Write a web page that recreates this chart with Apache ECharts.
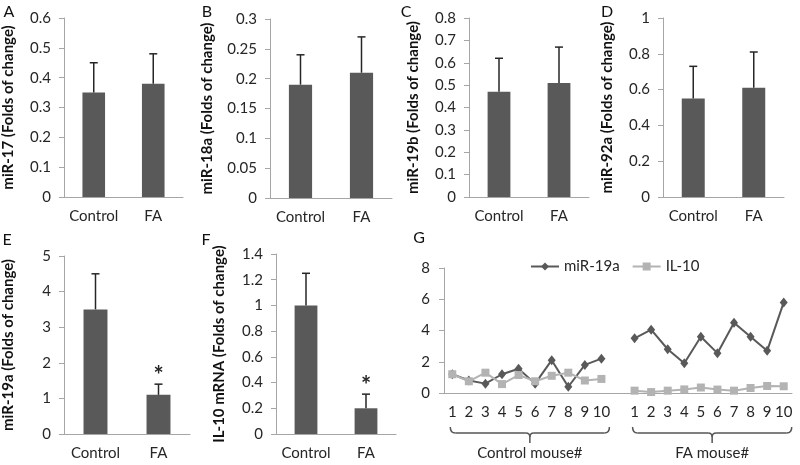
<!DOCTYPE html>
<html><head><meta charset="utf-8">
<script src="https://cdn.jsdelivr.net/npm/echarts@6/dist/echarts.min.js"></script>
<style>html,body{margin:0;padding:0;background:#fff}#c{width:800px;height:465px}</style>
</head><body><div id="c"></div>
<script>
// ---------- data ----------
const categories = ['Control', 'FA'];
const miR17Mean = [0.35, 0.38];   const miR17Err = [0.10, 0.10];
const miR18aMean = [0.19, 0.21];  const miR18aErr = [0.05, 0.06];
const miR19bMean = [0.47, 0.51];  const miR19bErr = [0.15, 0.16];
const miR92aMean = [0.55, 0.61];  const miR92aErr = [0.18, 0.20];
const miR19aMean = [3.5, 1.1];    const miR19aErr = [1.0, 0.3];
const il10Mean = [1.0, 0.2];      const il10Err = [0.25, 0.11];
const sigNone = [0, 0];
const sigFA = [0, 1];

const mouseTicks = ['1','2','3','4','5','6','7','8','9','10'];
const miR19aControl = [1.2, 0.8, 0.6, 1.2, 1.55, 0.6, 2.1, 0.4, 1.8, 2.2];
const miR19aFA      = [3.5, 4.05, 2.8, 1.9, 3.6, 2.55, 4.5, 3.6, 2.7, 5.8];
const il10Control   = [1.2, 0.75, 1.3, 0.57, 1.15, 0.75, 1.1, 1.3, 0.8, 0.9];
const il10FA        = [0.15, 0.06, 0.15, 0.23, 0.35, 0.22, 0.15, 0.32, 0.45, 0.43];

// ---------- layout ----------
const FONT = 'Lato';
const panels = [
  {letter:'A', name:'miR-17 (Folds of change)', mean:miR17Mean, err:miR17Err, sig:sigNone, max:0.6, interval:0.1, grid:{left:63, top:18, width:120, height:179}, gap:48, lp:[9,12]},
  {letter:'B', name:'miR-18a (Folds of change)', mean:miR18aMean, err:miR18aErr, sig:sigNone, max:0.3, interval:0.05, grid:{left:270, top:19, width:122, height:179}, gap:55, lp:[207,12]},
  {letter:'C', name:'miR-19b (Folds of change)', mean:miR19bMean, err:miR19bErr, sig:sigNone, max:0.8, interval:0.1, grid:{left:469, top:18, width:120, height:179}, gap:48, lp:[406,12]},
  {letter:'D', name:'miR-92a (Folds of change)', mean:miR92aMean, err:miR92aErr, sig:sigNone, max:1, interval:0.2, grid:{left:663, top:18, width:121, height:179}, gap:48, lp:[607,12]},
  {letter:'E', name:'miR-19a (Folds of change)', mean:miR19aMean, err:miR19aErr, sig:sigFA, max:5, interval:1, grid:{left:63, top:256, width:127, height:178}, gap:48, lp:[7,240]},
  {letter:'F', name:'IL-10 mRNA (Folds of change)', mean:il10Mean, err:il10Err, sig:sigFA, max:1.4, interval:0.2, grid:{left:276, top:254, width:120, height:180}, gap:49, lp:[206,240]}
];
const gGrid = {left:444, top:268, width:348, height:125};

const axisColor = '#a6a6a6';
const textColor = '#262626';
const barColor = '#595959';

const gCats = [];
mouseTicks.forEach(t => gCats.push('Control ' + t));
gCats.push('gap');
mouseTicks.forEach(t => gCats.push('FA ' + t));
const gTickLabels = [...mouseTicks, '', ...mouseTicks];
const gMiR19a = [...miR19aControl, null, ...miR19aFA];
const gIL10 = [...il10Control, null, ...il10FA];

function renderErr(params, api) {
  const x = api.value(0), m = api.value(1), e = api.value(2), s = api.value(3);
  const base = api.coord([x, m]);
  const top = api.coord([x, m + e]);
  const st = {stroke:'#262626', lineWidth:1.5};
  const children = [
    {type:'line', shape:{x1:base[0], y1:base[1], x2:top[0], y2:top[1]}, style:st},
    {type:'line', shape:{x1:top[0]-4, y1:top[1], x2:top[0]+4, y2:top[1]}, style:st}
  ];
  if (s) children.push({type:'text', x:top[0], y:top[1]+4, style:{text:'*', fontSize:24, fontWeight:'bold', fontFamily:FONT, fill:'#262626', align:'center', verticalAlign:'bottom'}});
  return {type:'group', children};
}

const grid = [], xAxis = [], yAxis = [], series = [], graphic = [];
panels.forEach((p, i) => {
  grid.push(p.grid);
  xAxis.push({
    type:'category', gridIndex:i, data:categories,
    axisLine:{lineStyle:{color:axisColor, width:1}},
    axisTick:{length:5, lineStyle:{color:axisColor}},
    axisLabel:{interval:0, hideOverlap:false, fontSize:15, color:textColor, fontFamily:FONT, margin:12}
  });
  yAxis.push({
    type:'value', gridIndex:i, min:0, max:p.max, interval:p.interval,
    axisLine:{show:true, lineStyle:{color:axisColor, width:1}},
    axisTick:{show:true, length:5, lineStyle:{color:axisColor}},
    splitLine:{show:false},
    axisLabel:{fontSize:15, color:textColor, fontFamily:FONT, margin:13},
    name:p.name, nameLocation:'middle', nameGap:p.gap,
    nameTextStyle:{fontSize:15, fontWeight:'bold', color:'#111', fontFamily:FONT}
  });
  series.push({type:'bar', xAxisIndex:i, yAxisIndex:i, data:p.mean, barWidth:'38%', itemStyle:{color:barColor}, silent:true});
  series.push({type:'custom', xAxisIndex:i, yAxisIndex:i, renderItem:renderErr, encode:{x:0, y:1},
    data:p.mean.map((m, j) => [j, m, p.err[j], p.sig[j]]), silent:true, z:3});
  graphic.push({type:'text', x:p.lp[0], y:p.lp[1], style:{text:p.letter, fontSize:16, fontFamily:FONT, fill:'#111', align:'center', verticalAlign:'middle'}});
});
graphic.push({type:'text', x:419, y:238, style:{text:'G', fontSize:16, fontFamily:FONT, fill:'#111', align:'center', verticalAlign:'middle'}});

grid.push(gGrid);
xAxis.push({
  type:'category', gridIndex:6, data:gCats,
  axisLine:{lineStyle:{color:axisColor, width:1}},
  axisTick:{length:5, interval:0, lineStyle:{color:axisColor}},
  axisLabel:{interval:0, hideOverlap:false, fontSize:15, color:textColor, fontFamily:FONT, margin:12, formatter:(v, idx) => gTickLabels[idx]}
});
yAxis.push({
  type:'value', gridIndex:6, min:0, max:8, interval:2,
  axisLine:{show:true, lineStyle:{color:axisColor, width:1}},
  axisTick:{show:true, length:5, lineStyle:{color:axisColor}},
  splitLine:{show:false},
  axisLabel:{fontSize:15, color:textColor, fontFamily:FONT, margin:14}
});
series.push({name:'miR-19a', type:'line', xAxisIndex:6, yAxisIndex:6, data:gMiR19a, symbol:'diamond', symbolSize:[8,10],
  lineStyle:{color:'#595959', width:2}, itemStyle:{color:'#595959'}, connectNulls:false, silent:true});
series.push({name:'IL-10', type:'line', xAxisIndex:6, yAxisIndex:6, data:gIL10, symbol:'rect', symbolSize:8,
  lineStyle:{color:'#b3b3b3', width:2}, itemStyle:{color:'#b3b3b3'}, connectNulls:false, silent:true});

const chart = echarts.init(document.getElementById('c'), null, {renderer:'canvas'});
chart.setOption({
  animation:false,
  backgroundColor:'#fff',
  textStyle:{fontFamily:FONT},
  legend:{data:['miR-19a','IL-10'], left:530, top:259, padding:0, itemWidth:28, itemHeight:10, itemGap:12,
    textStyle:{fontSize:15, color:textColor, fontFamily:FONT}},
  grid, xAxis, yAxis, series, graphic
});

// group brackets under panel G
function px(i) { return chart.convertToPixel({xAxisIndex:6}, i); }
function bracket(x1, x2, label) {
  const xm = (x1 + x2) / 2, yT = 427, yH = 433, yS = 443;
  const st = {fill:null, stroke:'#555', lineWidth:1.5};
  return [
    {type:'bezierCurve', shape:{x1:x1, y1:yT, cpx1:x1, cpy1:yH, x2:x1+5, y2:yH}, style:st},
    {type:'line', shape:{x1:x1+5, y1:yH, x2:xm-4, y2:yH}, style:st},
    {type:'bezierCurve', shape:{x1:xm-4, y1:yH, cpx1:xm, cpy1:yH, x2:xm, y2:yH+4}, style:st},
    {type:'line', shape:{x1:xm, y1:yH+4, x2:xm, y2:yS}, style:st},
    {type:'bezierCurve', shape:{x1:xm+4, y1:yH, cpx1:xm, cpy1:yH, x2:xm, y2:yH+4}, style:st},
    {type:'line', shape:{x1:xm+4, y1:yH, x2:x2-5, y2:yH}, style:st},
    {type:'bezierCurve', shape:{x1:x2, y1:yT, cpx1:x2, cpy1:yH, x2:x2-5, y2:yH}, style:st},
    {type:'text', x:xm, y:453, style:{text:label, fontSize:15, fontFamily:FONT, fill:textColor, align:'center', verticalAlign:'middle'}}
  ];
}
const extra = [
  ...bracket(px(0) - 2, px(9) + 8, 'Control mouse#'),
  ...bracket(px(11) - 2, px(20) + 8, 'FA mouse#')
];
chart.setOption({graphic: graphic.concat(extra)});
</script>
</body></html>
